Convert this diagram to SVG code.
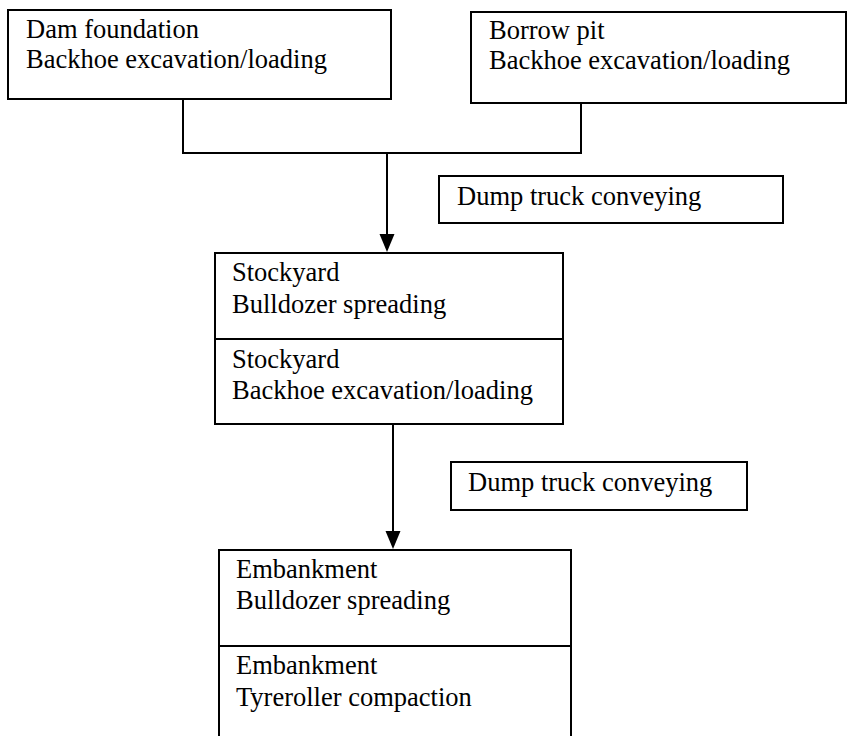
<svg xmlns="http://www.w3.org/2000/svg" width="849" height="736" viewBox="0 0 849 736">
  <style>
    .box { fill: #ffffff; stroke: #000000; stroke-width: 2; }
    .div { stroke: #000000; stroke-width: 2; }
    .wire { fill: none; stroke: #000000; stroke-width: 2; }
    .head { fill: #000000; }
    text { font-family: 'Liberation Serif', Tinos, 'Times New Roman', Times, serif; font-size: 26.5px; fill: #000000; }
  </style>
  <rect width="849" height="736" fill="#ffffff"/>

  <!-- connectors -->
  <g id="connectors">
    <polyline class="wire" points="183,97 183,153 581,153 581,100"/>
    <line class="wire" x1="387" y1="153" x2="387" y2="235"/>
    <path class="head" d="M379.5,234 L394.5,234 L387,252 Z"/>
    <line class="wire" x1="393" y1="425" x2="393" y2="532"/>
    <path class="head" d="M385.5,531 L400.5,531 L393,549 Z"/>
  </g>

  <!-- source: dam foundation -->
  <g id="dam-foundation">
    <rect class="box" x="8" y="10" width="383" height="89"/>
    <text x="26" y="38">Dam foundation</text>
    <text x="26" y="68">Backhoe excavation/loading</text>
  </g>

  <!-- source: borrow pit -->
  <g id="borrow-pit">
    <rect class="box" x="471" y="12" width="375" height="91"/>
    <text x="489" y="39">Borrow pit</text>
    <text x="489" y="69">Backhoe excavation/loading</text>
  </g>

  <!-- transport label 1 -->
  <g id="dump-truck-1">
    <rect class="box" x="439" y="176" width="344" height="47"/>
    <text x="457" y="205">Dump truck conveying</text>
  </g>

  <!-- stockyard -->
  <g id="stockyard">
    <rect class="box" x="215" y="253" width="348" height="171"/>
    <line class="div" x1="215" y1="339" x2="563" y2="339"/>
    <text x="232" y="281">Stockyard</text>
    <text x="232" y="313">Bulldozer spreading</text>
    <text x="232" y="368">Stockyard</text>
    <text x="232" y="399">Backhoe excavation/loading</text>
  </g>

  <!-- transport label 2 -->
  <g id="dump-truck-2">
    <rect class="box" x="451" y="462" width="296" height="48"/>
    <text x="468" y="491">Dump truck conveying</text>
  </g>

  <!-- embankment -->
  <g id="embankment">
    <rect class="box" x="219" y="550" width="352" height="200"/>
    <line class="div" x1="219" y1="646" x2="571" y2="646"/>
    <text x="236" y="578">Embankment</text>
    <text x="236" y="609">Bulldozer spreading</text>
    <text x="236" y="674">Embankment</text>
    <text x="236" y="706">Tyreroller compaction</text>
  </g>
</svg>
